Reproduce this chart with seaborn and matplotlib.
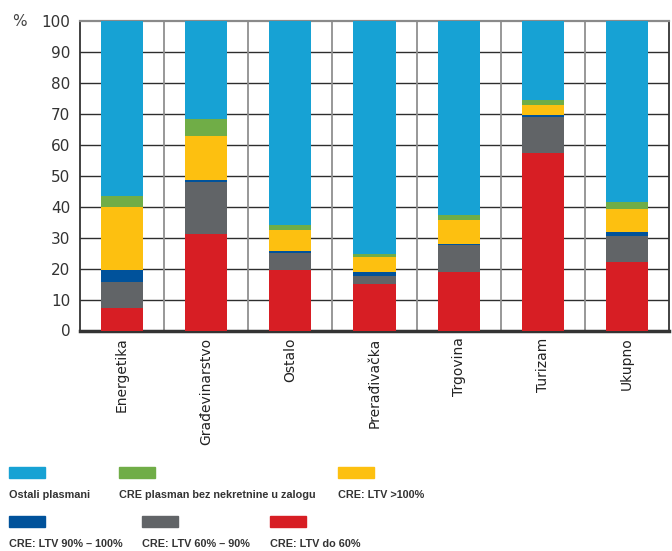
import matplotlib
matplotlib.use("Agg")
import matplotlib.pyplot as plt
import seaborn as sns
import numpy as np
import pandas as pd
from matplotlib.patches import Rectangle

categories = ["Energetika", "Građevinarstvo", "Ostalo", "Prerađivačka", "Trgovina", "Turizam", "Ukupno"]
series_names = ["CRE: LTV do 60%", "CRE: LTV 60% – 90%", "CRE: LTV 90% – 100%",
                "CRE: LTV >100%", "CRE plasman bez nekretnine u zalogu", "Ostali plasmani"]
ltv_do_60 = [7.4, 31.2, 19.5, 15.0, 18.9, 57.3, 22.1]
ltv_60_90 = [8.2, 16.8, 5.5, 2.5, 8.6, 11.6, 8.3]
ltv_90_100 = [3.8, 0.7, 0.7, 1.3, 0.3, 0.7, 1.3]
ltv_over_100 = [20.4, 14.1, 6.7, 4.8, 7.8, 3.2, 7.5]
bez_nekretnine = [3.7, 5.5, 1.6, 1.0, 1.6, 1.6, 2.2]
ostali = [56.5, 31.7, 66.0, 75.4, 62.8, 25.6, 58.6]

colors = ["#D71E24", "#616467", "#00529B", "#FDC010", "#70AD47", "#17A2D4"]
series = [ltv_do_60, ltv_60_90, ltv_90_100, ltv_over_100, bez_nekretnine, ostali]

sns.set_style("white")
plt.rcParams['font.family'] = ['DejaVu Sans']

fig = plt.figure(figsize=(6.72, 5.51), dpi=100)
ax = fig.add_axes([80/672, 1-330.5/551, 589/672, 309.5/551])

cum = np.cumsum(np.array(series), axis=0)
for i in range(len(series) - 1, -1, -1):
    df = pd.DataFrame({"cat": categories, "val": cum[i]})
    sns.barplot(data=df, x="cat", y="val", color=colors[i], width=0.5,
                saturation=1, ax=ax, zorder=3, linewidth=0, edgecolor="none")

ax.set_ylim(0, 100)
ax.set_xlim(-0.5, len(categories) - 0.5)
ax.set_yticks(range(0, 101, 10))
ax.set_yticklabels([str(v) for v in range(0, 101, 10)], fontsize=11, color="#333333")
ax.set_xticks(range(len(categories)))
ax.set_xticklabels(categories, rotation=90, fontsize=10, color="#222222")
ax.tick_params(axis="y", length=0, pad=7)
ax.tick_params(axis="x", length=0, pad=5)
ax.set_xlabel("")
ax.set_ylabel("")

for v in range(10, 100, 10):
    ax.axhline(v, color="#2e2e2e", lw=1.0, zorder=1)
for b in np.arange(0.5, len(categories) - 0.5, 1):
    ax.axvline(b, color="#909090", lw=1.3, zorder=1)

for s in ["left", "right"]:
    ax.spines[s].set_color("#333333")
    ax.spines[s].set_linewidth(1.3)
ax.spines["top"].set_color("#8a8a8a")
ax.spines["top"].set_linewidth(1.6)
ax.spines["bottom"].set_color("#333333")
ax.spines["bottom"].set_linewidth(2.5)

fig.text(12/672, 1-21/551, "%", fontsize=11, color="#444444", va="center", ha="left")

# custom legend: swatch above label
leg_font = ['Liberation Sans', 'DejaVu Sans']
legend_items = [
    (5, 9, 467),
    (4, 119, 467),
    (3, 338, 467),
    (2, 9, 516),
    (1, 142, 516),
    (0, 270, 516),
]
for idx, x, y in legend_items:
    fig.patches.append(Rectangle((x/672, 1-(y+11)/551), 36/672, 11/551,
                                 transform=fig.transFigure, color=colors[idx], figure=fig))
    fig.text(x/672, 1-(y+28)/551, series_names[idx], fontsize=7.8, fontweight="bold",
             color="#333333", va="center", ha="left", family=leg_font)

fig.savefig("out.png", dpi=100)
